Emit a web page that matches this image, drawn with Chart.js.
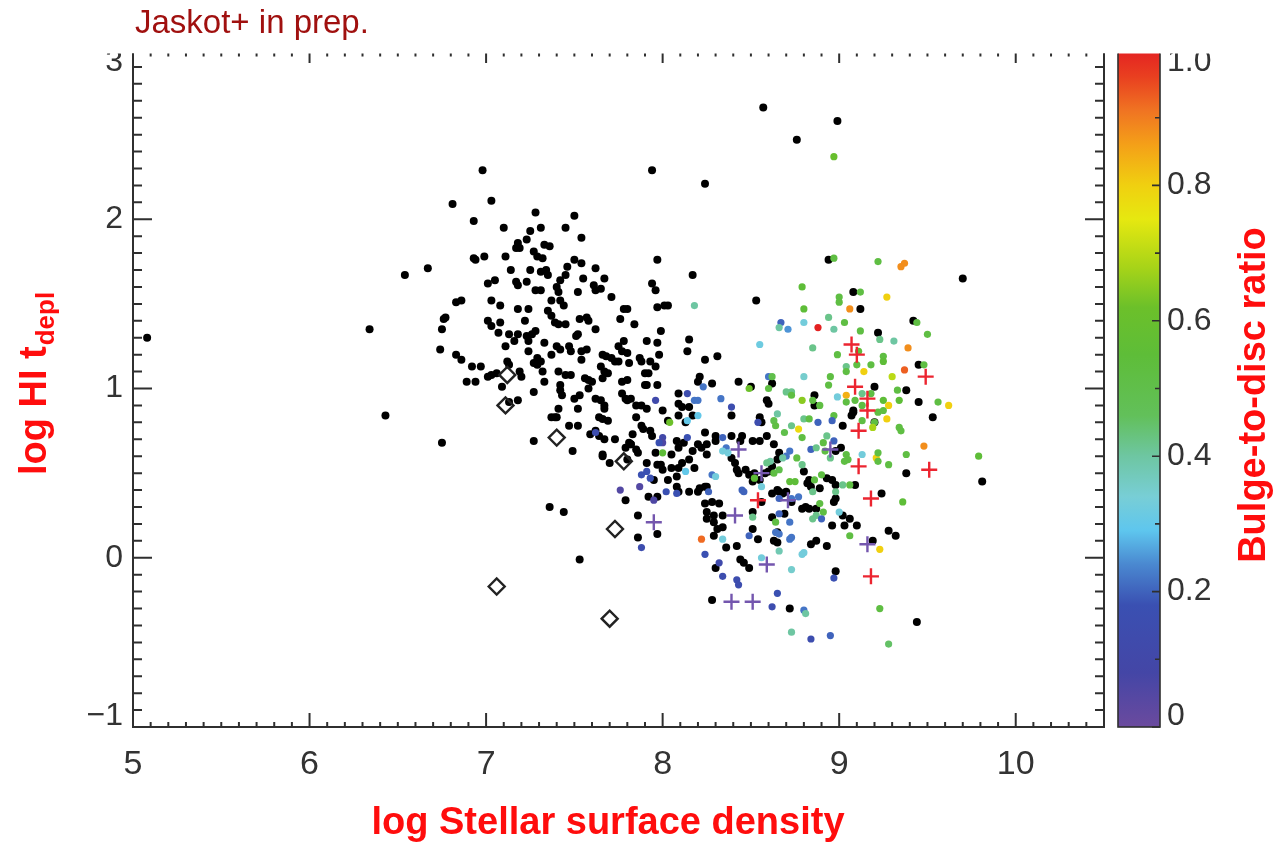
<!DOCTYPE html>
<html>
<head>
<meta charset="utf-8">
<script src="https://cdn.jsdelivr.net/npm/chart.js@4.4.1/dist/chart.umd.min.js"></script>
<style>
  html, body { margin: 0; padding: 0; background: #ffffff; }
  #wrap { width: 1274px; height: 842px; position: relative; }
</style>
</head>
<body>
<div id="wrap"><canvas id="chart"></canvas></div>
<script>
// Galaxies without a bulge/disc decomposition: [log stellar surface density, log HI depletion time]
const blackDots = [
  [6.81,2.09],[7.03,2.11],[6.93,1.99],[7.28,2.04],[7.50,2.02],[7.10,1.95],[7.25,1.93],[7.31,1.95],[7.45,1.95],
  [7.23,1.88],[7.18,1.86],[7.17,1.83],[7.19,1.83],[7.54,1.89],[7.27,1.81],[7.33,1.85],[7.36,1.84],[6.93,1.77],
  [6.94,1.76],[6.99,1.78],[7.11,1.78],[7.29,1.78],[7.32,1.77],[7.50,1.76],[7.54,1.74],[7.97,1.76],[6.54,1.67],
  [6.67,1.71],[7.14,1.70],[7.25,1.70],[7.31,1.69],[7.34,1.70],[7.35,1.67],[7.46,1.72],[7.62,1.71],[7.45,1.67],
  [7.42,1.64],[7.55,1.65],[7.67,1.65],[7.01,1.62],[7.05,1.64],[7.17,1.63],[7.18,1.61],[7.23,1.63],[7.40,1.60],
  [7.41,1.57],[7.28,1.58],[7.31,1.58],[7.52,1.57],[7.61,1.61],[7.62,1.58],[7.65,1.59],[7.94,1.62],[7.96,1.58],
  [7.71,1.54],[6.83,1.51],[6.86,1.52],[7.03,1.52],[7.08,1.49],[7.37,1.52],[7.42,1.52],[7.44,1.49],[7.18,1.47],
  [7.24,1.47],[7.35,1.46],[7.78,1.47],[7.80,1.47],[7.97,1.48],[6.77,1.42],[6.76,1.41],[7.01,1.40],[7.03,1.37],
  [7.08,1.39],[7.22,1.40],[7.37,1.43],[7.39,1.39],[7.41,1.38],[7.45,1.38],[7.53,1.41],[7.57,1.42],[7.58,1.40],
  [7.62,1.35],[7.76,1.41],[7.84,1.38],[6.34,1.35],[6.75,1.35],[7.07,1.33],[7.13,1.32],[7.18,1.32],[7.23,1.31],
  [7.24,1.28],[7.26,1.32],[7.28,1.34],[7.33,1.27],[7.40,1.25],[7.42,1.23],[7.47,1.25],[7.51,1.31],[7.52,1.32],
  [7.54,1.22],[7.57,1.23],[7.66,1.20],[7.68,1.19],[7.71,1.18],[7.73,1.16],[7.75,1.16],[7.75,1.25],[7.78,1.28],
  [7.77,1.22],[7.80,1.21],[7.91,1.28],[7.97,1.27],[6.74,1.23],[6.83,1.20],[6.86,1.17],[7.11,1.25],[7.16,1.28],
  [7.24,1.22],[7.12,1.16],[7.13,1.14],[7.29,1.18],[7.31,1.16],[7.27,1.15],[7.29,1.14],[7.37,1.20],[7.48,1.22],
  [7.54,1.17],[7.65,1.13],[7.81,1.15],[7.87,1.18],[7.88,1.16],[7.93,1.16],[6.92,1.13],[6.97,1.13],[7.19,1.10],
  [7.20,1.07],[7.01,1.07],[7.03,1.08],[7.06,1.09],[6.89,1.04],[6.94,1.04],[7.09,1.01],[7.18,0.93],[7.13,0.92],
  [7.27,0.98],[7.32,1.10],[7.33,1.04],[7.41,1.10],[7.45,1.08],[7.48,1.08],[7.56,1.06],[7.58,1.05],[7.60,1.04],
  [7.67,1.10],[7.69,1.09],[7.66,1.06],[7.77,1.04],[7.80,1.05],[7.90,1.09],[7.92,1.09],[7.42,1.02],[7.42,0.99],
  [7.43,0.96],[7.58,1.00],[7.50,0.94],[7.53,0.96],[7.62,0.94],[7.65,0.93],[7.67,0.90],[7.67,0.88],[7.77,0.97],
  [7.79,0.94],[7.80,0.93],[7.82,0.94],[7.85,0.90],[7.88,0.90],[7.91,0.88],[7.90,1.02],[7.91,1.02],[7.41,0.88],
  [7.52,0.88],[7.37,0.83],[7.39,0.83],[7.40,0.83],[7.47,0.78],[7.52,0.78],[7.59,0.73],[7.62,0.75],[7.64,0.72],
  [7.67,0.70],[7.73,0.70],[7.64,0.83],[7.66,0.82],[7.69,0.81],[7.85,0.83],[7.88,0.78],[7.89,0.76],[7.93,0.75],
  [7.94,0.72],[7.83,0.73],[7.81,0.68],[7.82,0.67],[6.43,0.84],[6.75,0.68],[7.27,0.69],[7.49,0.63],[7.66,0.61],
  [5.08,1.30],[6.98,2.29],[7.53,-0.01],[7.36,0.30],[7.44,0.27],[7.94,2.29],[8.24,2.21],[8.57,2.66],[8.76,2.47],
  [8.99,2.58],[8.94,1.76],[9.70,1.65],[9.81,0.45],[9.44,-0.38],[8.17,1.67],[8.01,1.49],[8.03,1.49],[8.53,1.52],
  [7.99,1.34],[8.15,1.29],[8.14,1.22],[8.24,1.17],[8.31,1.19],[7.98,1.20],[7.96,1.13],[7.97,1.02],[8.21,1.07],
  [8.20,1.04],[8.28,1.03],[8.43,1.04],[8.50,1.01],[8.62,1.03],[8.09,0.97],[8.09,0.91],[8.11,0.89],[8.15,0.89],
  [8.17,0.84],[8.09,0.84],[8.39,0.84],[8.00,0.87],[8.13,0.80],[8.03,0.81],[8.24,0.74],[8.30,0.72],[8.30,0.69],
  [8.39,0.72],[8.45,0.72],[8.44,0.69],[8.55,0.83],[8.56,0.80],[8.59,0.93],[8.60,0.91],[8.59,0.72],[8.51,0.69],
  [8.55,0.69],[8.86,0.96],
  [7.79,0.65],[7.82,0.67],[7.85,0.64],[7.86,0.62],[7.66,0.60],[7.70,0.56],[7.80,0.58],[7.91,0.56],[7.96,0.62],
  [7.97,0.55],[7.95,0.46],[7.79,0.34],[7.92,0.36],[7.97,0.36],[7.86,0.25],[7.86,0.12],[7.97,0.14],
  [8.05,0.61],[8.09,0.65],[8.12,0.68],[8.08,0.69],[8.17,0.63],[8.20,0.67],[8.22,0.65],[8.25,0.67],[8.25,0.61],
  [8.15,0.58],[8.11,0.56],[8.09,0.53],[8.05,0.53],[8.18,0.53],[7.99,0.55],[8.00,0.52],[8.08,0.48],[8.08,0.42],
  [8.09,0.39],[8.03,0.46],[8.15,0.39],[8.20,0.39],[8.21,0.41],[8.24,0.42],[8.25,0.42],[8.24,0.32],[8.28,0.33],
  [8.32,0.32],[8.25,0.27],[8.29,0.25],[8.25,0.23],[8.29,0.21],[8.34,0.25],[8.31,0.17],[8.34,0.18],[8.29,0.13],
  [8.36,0.06],[8.42,0.07],[8.30,-0.06],[8.28,-0.25],[8.44,-0.01],[8.46,-0.03],[8.49,-0.06],[8.51,0.17],[8.54,0.11],
  [8.51,0.27],[8.42,0.52],[8.43,0.50],[8.39,0.59],[8.41,0.56],[8.47,0.52],[8.49,0.49],[8.52,0.50],[8.51,0.45],
  [8.55,0.46],[8.58,0.50],[8.60,0.51],[8.63,0.67],[8.66,0.39],[8.68,0.38],[8.73,0.33],[8.83,0.46],[8.82,0.44],
  [8.84,0.42],[8.83,0.29],[8.87,0.29],[8.63,0.10],[8.65,0.09],[8.84,0.08],[8.87,0.10],[8.93,0.07],[8.72,-0.30],
  [9.02,0.78],[9.07,0.84],[9.08,0.86],[9.20,0.80],[9.01,0.65],[8.98,0.63],[8.66,0.62],[8.65,0.58],[8.62,0.54],
  [9.09,0.43],[8.96,0.46],[8.93,0.47],[8.98,0.43],[8.98,0.35],[8.97,0.33],[8.89,0.41],[8.80,0.51],[8.70,0.39],
  [8.65,0.40],[8.62,0.38],[8.56,0.33],[8.79,0.29],[8.81,0.30],[9.02,0.25],[9.06,0.23],[9.10,0.19],[9.03,0.19],
  [8.96,0.19],[8.69,0.26],[8.62,0.24],[8.65,0.15],[9.19,0.10],[9.28,0.16],[9.32,0.13],[8.98,-0.08],[9.38,0.50],
  [9.24,0.38],[9.45,0.92],[9.53,0.83],
  [9.08,1.57],[9.12,1.47],[9.42,1.40],[9.22,1.33],[9.20,1.01],[9.38,0.99],[8.86,0.90],[9.08,0.87],[9.45,1.14]
];

// Galaxies with a measured bulge-to-disc ratio: [x, y, B/D]
const colouredDots = [
  [8.18,1.49,0.40],[8.23,1.01,0.22],[8.49,1.00,0.62],[8.60,1.07,0.22],[8.62,1.07,0.50],[8.14,0.97,0.15],
  [8.18,0.93,0.22],[8.20,0.93,0.22],[8.20,0.84,0.30],[8.33,0.94,0.22],[8.39,0.89,0.15],[7.96,0.93,0.12],
  [8.04,0.80,0.62],[8.14,0.81,0.30],[8.34,0.71,0.20],[8.54,0.80,0.15],[8.63,0.81,0.50],[8.65,0.85,0.40],
  [8.69,0.74,0.50],[8.64,0.78,0.52],[7.62,0.74,0.15],[8.00,0.71,0.10],[8.00,0.68,0.06],[8.14,0.71,0.18],
  [8.79,1.60,0.55],[8.80,1.47,0.55],[8.67,1.39,0.20],[8.71,1.35,0.25],[8.66,1.36,0.40],[8.80,1.39,0.33],
  [8.88,1.36,1.00],[8.94,1.42,0.42],[8.97,1.35,0.40],[9.03,1.39,0.52],[9.12,1.34,0.52],[9.23,1.29,0.42],
  [9.31,1.28,0.40],[9.39,1.24,0.88],[8.55,1.26,0.32],[8.85,1.24,0.42],[8.99,1.20,0.52],[9.11,1.22,0.55],
  [9.25,1.19,0.52],[9.25,1.16,0.55],[9.04,1.13,0.42],[9.04,1.10,0.52],[9.10,1.14,0.52],[9.18,1.14,0.52],
  [9.48,1.14,0.52],[9.14,1.10,0.80],[9.30,1.07,0.70],[9.37,1.11,0.93],[8.80,1.07,0.35],[8.95,1.07,0.52],
  [8.94,1.02,0.52],[8.60,1.00,0.52],[9.33,0.99,0.52],[8.70,0.98,0.42],[8.73,0.98,0.42],[8.73,0.96,0.52],
  [8.99,0.95,0.33],[9.04,0.96,0.84],[9.13,0.97,0.42],[9.18,0.97,0.52],[8.79,0.93,0.65],[8.85,0.93,0.52],
  [8.89,0.90,0.52],[9.04,0.92,0.52],[9.09,0.93,0.52],[9.25,0.93,0.55],[9.34,0.93,0.55],[9.56,0.92,0.52],
  [9.62,0.90,0.80],[9.28,0.90,0.80],[9.22,0.86,0.52],[9.25,0.87,0.52],[9.13,0.90,0.52],[8.97,0.84,0.52],
  [8.96,0.81,0.20],[8.88,0.80,0.20],[8.80,0.82,0.42],[8.83,0.82,0.52],[9.13,0.81,0.52],[9.27,0.82,0.80],
  [9.20,0.80,0.52],[9.34,0.77,0.52],[8.73,0.78,0.42],[8.77,0.76,0.78],[9.19,0.77,0.68],[9.35,0.75,0.52],
  [8.79,0.71,0.52],[8.91,0.68,0.52],[8.93,0.72,0.42],[8.97,0.69,0.20],[8.84,0.64,0.20],[8.87,0.65,0.42],
  [8.92,0.63,0.52],[8.95,0.59,0.42],[9.04,0.61,0.52],[9.05,0.58,0.52],[9.03,0.57,0.52],[9.13,0.61,0.33],
  [9.21,0.59,0.80],[9.22,0.62,0.52],[9.22,0.57,0.52],[9.28,0.55,0.52],[9.38,0.61,0.52],[9.48,0.66,0.88],
  [9.79,0.60,0.55],[9.36,0.33,0.55],[9.02,0.43,0.42],[9.06,0.43,0.52],[8.98,0.39,0.42],[8.85,0.39,0.42],
  [8.86,0.46,0.52],[8.90,0.49,0.52],[8.79,0.55,0.42],[8.76,0.59,0.52],[8.72,0.63,0.22],[8.70,0.60,0.22],
  [8.68,0.59,0.40],[8.61,0.57,0.40],[8.63,0.50,0.52],[8.72,0.45,0.55],[8.75,0.45,0.55],[8.73,0.35,0.22],
  [8.77,0.36,0.22],[8.66,0.35,0.20],[8.56,0.42,0.33],[8.89,0.32,0.52],[8.91,0.27,0.52],[8.87,0.25,0.42],
  [8.85,0.23,0.42],[8.90,0.23,0.20],[9.00,0.27,0.33],[8.72,0.21,0.22],[8.64,0.21,0.52],[8.66,0.26,0.20],
  [8.51,0.24,0.42],[8.64,0.15,0.22],[8.66,0.14,0.22],[8.72,0.11,0.22],[8.73,0.12,0.22],[8.66,0.04,0.38],
  [8.79,0.02,0.33],[8.80,0.03,0.33],[8.56,0.00,0.33],[8.73,-0.07,0.35],[9.06,0.13,0.52],[9.23,0.05,0.80],
  [8.97,-0.12,0.18],[8.65,-0.21,0.18],[8.62,-0.29,0.15],[8.80,-0.31,0.22],[8.81,-0.33,0.40],[9.23,-0.30,0.52],
  [8.73,-0.44,0.40],[8.84,-0.48,0.15],[8.95,-0.46,0.20],[9.28,-0.51,0.45],[8.97,2.37,0.60],[8.97,1.77,0.52],
  [9.22,1.75,0.52],[9.35,1.72,0.88],[9.37,1.74,0.88],[9.12,1.57,0.52],[9.00,1.54,0.52],[9.00,1.51,0.52],
  [9.27,1.54,0.80],[9.06,1.47,0.88],[9.44,1.39,0.52],[9.50,1.32,0.52],
  [8.00,0.62,0.55],[7.98,0.68,0.18],[8.13,0.51,0.30],[7.88,0.49,0.18],[7.91,0.51,0.18],[7.93,0.47,0.18],
  [7.76,0.40,0.05],[7.87,0.42,0.05],[7.95,0.34,0.06],[8.02,0.39,0.18],[8.08,0.38,0.18],[8.28,0.49,0.22],
  [8.30,0.48,0.33],[8.26,0.39,0.20],[8.34,0.11,0.33],[8.22,0.11,0.92],[8.24,0.02,0.18],[8.32,-0.03,0.12],
  [8.34,-0.11,0.15],[8.42,-0.13,0.15],[8.43,-0.16,0.15],[8.49,0.13,0.20],[8.45,0.40,0.20],[8.46,0.39,0.20],
  [8.36,0.65,0.22],[8.34,0.63,0.33],[8.37,0.62,0.33],[8.52,0.47,0.55],[8.66,0.52,0.50],[8.59,0.56,0.42],
  [7.88,0.06,0.15]
];

// Crosses: [x, y, B/D]
const crossMarks = [
  [8.43,0.64,0.02],[8.56,0.50,0.02],[8.71,0.34,0.02],[8.41,0.25,0.02],[7.95,0.21,0.02],[8.59,-0.04,0.02],
  [8.39,-0.26,0.02],[8.51,-0.26,0.02],[9.16,0.08,0.02],[8.95,0.64,0.02],
  [9.07,1.26,1.0],[9.10,1.20,1.0],[9.49,1.07,1.0],[9.09,1.01,1.0],[9.16,0.94,1.0],[9.16,0.87,1.0],
  [9.11,0.75,1.0],[9.11,0.54,1.0],[9.51,0.52,1.0],[9.18,0.35,1.0],[9.18,-0.11,1.0],[8.54,0.34,1.0]
];

// Open diamonds: [x, y]
const diamondMarks = [
  [7.12,1.08],[7.11,0.90],[7.40,0.71],[7.78,0.57],[7.73,0.17],[7.06,-0.17],[7.70,-0.36]
];

// Tick labels
const xTickLabels = [5, 6, 7, 8, 9, 10];
const yTickLabels = [3, 2, 1, 0, -1];
const barTickLabels = [0, 0.2, 0.4, 0.6, 0.8, 1.0];

// Colour table for the bulge-to-disc ratio
const barStops = [
  [0.00,'#6b4a9e'],[0.08,'#4446a6'],[0.18,'#3a50b2'],[0.24,'#4a88d0'],[0.29,'#5ec6ee'],[0.34,'#78ced6'],
  [0.40,'#6ec6a2'],[0.46,'#62c05a'],[0.55,'#5ebd38'],[0.62,'#6cc02a'],[0.68,'#a8d418'],[0.75,'#e6e810'],
  [0.80,'#f0d010'],[0.86,'#f4a018'],[0.91,'#f07422'],[0.96,'#e94020'],[1.00,'#e42222']
];

function hexRgb(h) {
  const n = parseInt(h.slice(1), 16);
  return [(n >> 16) & 255, (n >> 8) & 255, n & 255];
}
function bdColour(v) {
  v = Math.max(0, Math.min(1, v));
  for (let i = 1; i < barStops.length; i++) {
    const [v1, c1] = barStops[i];
    if (v <= v1) {
      const [v0, c0] = barStops[i - 1];
      const t = (v - v0) / (v1 - v0 || 1);
      const a = hexRgb(c0), b = hexRgb(c1);
      return 'rgb(' + a.map((q, k) => Math.round(q + (b[k] - q) * t)).join(',') + ')';
    }
  }
  return barStops[barStops.length - 1][1];
}

const AXIS = '#2f2f2f';
const LABEL = '#333333';
const TITLE_RED = '#ff0d0d';
const CROP_TOP = 53.5;
const LABEL_HALF = 12;   // half the digit height; end labels are kept inside the axis span

const frame = {
  id: 'frame',
  beforeDatasetsDraw(chart) {
    const { ctx, chartArea: a, scales: { x, y, bd } } = chart;
    const inside = p => Math.min(Math.max(p, a.top + LABEL_HALF), a.bottom - LABEL_HALF + 1);
    ctx.save();
    ctx.beginPath();
    ctx.rect(0, CROP_TOP, chart.width, chart.height);
    ctx.clip();

    // plot frame
    ctx.strokeStyle = AXIS;
    ctx.lineWidth = 2;
    ctx.beginPath();
    ctx.rect(a.left, a.top, a.right - a.left, a.bottom - a.top);
    ctx.stroke();

    // x ticks (bottom and top)
    ctx.beginPath();
    for (let i = 0; i <= 55; i++) {
      const p = x.getPixelForValue(5 + i / 10);
      const major = i % 10 === 0;
      ctx.moveTo(p, a.bottom); ctx.lineTo(p, a.bottom - (major ? 14 : 5));
      ctx.moveTo(p, a.top); ctx.lineTo(p, a.top + (major ? 13 : 6.5));
    }
    // y ticks (left and right)
    for (let i = 0; i <= 40; i++) {
      const p = y.getPixelForValue(-1 + i / 10);
      const major = i % 10 === 0;
      ctx.moveTo(a.left, p); ctx.lineTo(a.left + (major ? 19 : 9), p);
      ctx.moveTo(a.right, p); ctx.lineTo(a.right - (major ? 19 : 9), p);
    }
    ctx.stroke();

    // colour bar
    const cbL = 1118, cbR = 1160;
    const top = bd.getPixelForValue(1), bot = bd.getPixelForValue(0);
    const g = ctx.createLinearGradient(0, bot, 0, top);
    barStops.forEach(([v, c]) => g.addColorStop(v, c));
    ctx.fillStyle = g;
    ctx.fillRect(cbL, top, cbR - cbL, bot - top);
    ctx.lineWidth = 1.6;
    ctx.strokeStyle = AXIS;
    ctx.strokeRect(cbL, top, cbR - cbL, bot - top);
    ctx.beginPath();
    for (let i = 0; i <= 10; i++) {
      const p = bd.getPixelForValue(i / 10);
      ctx.moveTo(cbR, p); ctx.lineTo(cbR - (i % 2 === 0 ? 8 : 5), p);
    }
    ctx.stroke();

    // tick labels
    ctx.fillStyle = LABEL;
    ctx.font = '34px "Liberation Sans", Arial, sans-serif';
    ctx.textAlign = 'center';
    ctx.textBaseline = 'middle';
    xTickLabels.forEach(v => ctx.fillText(String(v), x.getPixelForValue(v), 765));
    ctx.font = '32px "Liberation Sans", Arial, sans-serif';
    ctx.textAlign = 'right';
    yTickLabels.forEach(v => ctx.fillText(v < 0 ? '\u2212' + Math.abs(v) : String(v), 123, inside(y.getPixelForValue(v))));
    ctx.textAlign = 'left';
    barTickLabels.forEach(v => ctx.fillText(v === 0 ? '0' : v.toFixed(1), 1167, inside(bd.getPixelForValue(v))));
    ctx.restore();
  },
  afterDraw(chart) {
    const { ctx } = chart;
    ctx.save();
    // note at the top
    ctx.fillStyle = '#a0100f';
    ctx.font = '33px "Liberation Sans", Arial, sans-serif';
    ctx.textAlign = 'left';
    ctx.textBaseline = 'alphabetic';
    ctx.fillText('Jaskot+ in prep.', 135, 33);

    // axis titles
    ctx.fillStyle = TITLE_RED;
    ctx.font = 'bold 38px "Liberation Sans", Arial, sans-serif';
    ctx.textAlign = 'center';
    ctx.fillText('log Stellar surface density', 608, 834);

    // left title with subscript
    ctx.save();
    ctx.translate(46, 384);
    ctx.rotate(-Math.PI / 2);
    const main = 'log HI t', sub = 'depl';
    ctx.font = 'bold 38px "Liberation Sans", Arial, sans-serif';
    const wMain = ctx.measureText(main).width;
    ctx.font = 'bold 26px "Liberation Sans", Arial, sans-serif';
    const wSub = ctx.measureText(sub).width;
    const start = -(wMain + wSub) / 2;
    ctx.textAlign = 'left';
    ctx.font = 'bold 38px "Liberation Sans", Arial, sans-serif';
    ctx.fillText(main, start, 0);
    ctx.font = 'bold 26px "Liberation Sans", Arial, sans-serif';
    ctx.fillText(sub, start + wMain + 1, 8);
    ctx.restore();

    // colour bar title
    ctx.save();
    ctx.translate(1265, 395);
    ctx.rotate(-Math.PI / 2);
    ctx.font = 'bold 38px "Liberation Sans", Arial, sans-serif';
    ctx.textAlign = 'center';
    ctx.fillText('Bulge-to-disc ratio', 0, 0);
    ctx.restore();
    ctx.restore();
  }
};

new Chart(document.getElementById('chart'), {
  type: 'scatter',
  data: {
    datasets: [
      {
        label: 'no B/D',
        data: blackDots.map(([x, y]) => ({ x, y })),
        pointRadius: 4,
        pointHoverRadius: 4,
        backgroundColor: '#000000',
        borderWidth: 0,
        order: 4
      },
      {
        label: 'B/D',
        data: colouredDots.map(([x, y, b]) => ({ x, y, b })),
        pointRadius: 3.6,
        pointHoverRadius: 3.6,
        backgroundColor: c => (c.raw ? bdColour(c.raw.b) : '#000'),
        borderWidth: 0,
        order: 3
      },
      {
        label: 'crosses',
        data: crossMarks.map(([x, y, b]) => ({ x, y, b })),
        pointStyle: 'cross',
        pointRadius: 8,
        pointHoverRadius: 8,
        borderWidth: 2.4,
        borderColor: c => (c.raw ? (c.raw.b > 0.5 ? '#ec2530' : '#7456ae') : '#000'),
        backgroundColor: 'rgba(0,0,0,0)',
        order: 2
      },
      {
        label: 'diamonds',
        data: diamondMarks.map(([x, y]) => ({ x, y })),
        pointStyle: 'rectRot',
        pointRadius: 8,
        pointHoverRadius: 8,
        borderWidth: 2.4,
        borderColor: '#222222',
        backgroundColor: 'rgba(0,0,0,0)',
        order: 1
      }
    ]
  },
  options: {
    responsive: true,
    maintainAspectRatio: false,
    animation: false,
    events: [],
    layout: { padding: { left: 133, top: 50, right: 170, bottom: 115 } },
    plugins: { legend: { display: false }, tooltip: { enabled: false } },
    scales: {
      x: { type: 'linear', min: 5, max: 10.5, display: false },
      y: { type: 'linear', min: -1, max: 3, display: false },
      bd: { type: 'linear', axis: 'y', position: 'right', min: 0, max: 1, display: false }
    }
  },
  plugins: [frame]
});
</script>
</body>
</html>
